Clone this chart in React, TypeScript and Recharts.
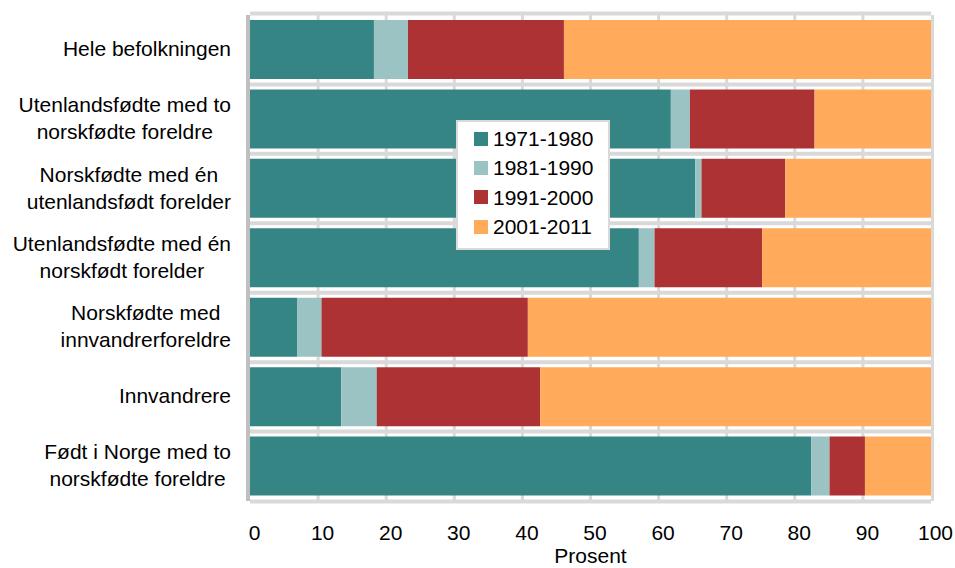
import React from 'react';
import { BarChart, Bar, XAxis, YAxis, CartesianGrid, Legend } from 'recharts';

const categories = [
  'Hele befolkningen',
  'Utenlandsfødte med to\nnorskfødte foreldre',
  'Norskfødte med én\nutenlandsfødt forelder',
  'Utenlandsfødte med én\nnorskfødt forelder',
  'Norskfødte med\ninnvandrerforeldre',
  'Innvandrere',
  'Født i Norge med to\nnorskfødte foreldre',
];

const periods = ['1971-1980', '1981-1990', '1991-2000', '2001-2011'];

const s1971_1980 = [18.2, 61.8, 65.4, 57.1, 6.9, 13.4, 82.4];
const s1981_1990 = [5.0, 2.8, 0.9, 2.3, 3.6, 5.2, 2.7];
const s1991_2000 = [22.9, 18.3, 12.3, 15.8, 30.3, 24.0, 5.2];
const s2001_2011 = [53.9, 17.1, 21.4, 24.8, 59.2, 57.4, 9.7];

const xTicks = [0, 10, 20, 30, 40, 50, 60, 70, 80, 90, 100];

const colors = ['#358584', '#9cc3c3', '#ad3233', '#ffab5b'];
const FONT = '"Liberation Sans", Arial, Helvetica, sans-serif';
const FONT_SIZE = 21;

const seriesValues = [s1971_1980, s1981_1990, s1991_2000, s2001_2011];
const data = categories.map((name, i) => {
  const row: Record<string, number | string> = { name };
  periods.forEach((p, k) => {
    row[p] = seriesValues[k][i];
  });
  return row;
});

let ctx: CanvasRenderingContext2D | null = null;
const measure = (t: string) => {
  if (!ctx) {
    const c = document.createElement('canvas');
    ctx = c.getContext('2d');
    if (ctx) ctx.font = `${FONT_SIZE}px ${FONT}`;
  }
  return ctx ? ctx.measureText(t).width : t.length * 10;
};

const YTick = (props: any) => {
  const { x, y, payload } = props;
  const lines = String(payload.value).split('\n');
  if (lines.length === 1) {
    return (
      <text x={x} y={y + 6.5} textAnchor="end" fill="#000" fontSize={FONT_SIZE} fontFamily={FONT}>
        {lines[0]}
      </text>
    );
  }
  const maxW = Math.max(...lines.map(measure));
  const cx = x - maxW / 2;
  return (
    <text textAnchor="middle" fill="#000" fontSize={FONT_SIZE} fontFamily={FONT}>
      {lines.map((l, i) => (
        <tspan key={i} x={cx} y={y - 7 + i * 27}>
          {l}
        </tspan>
      ))}
    </text>
  );
};

const XTick = (props: any) => {
  const { x, y, payload } = props;
  return (
    <text x={x + 4.5} y={y + 38.5} textAnchor="middle" fill="#000" fontSize={FONT_SIZE} fontFamily={FONT}>
      {payload.value}
    </text>
  );
};

const verticalGen = (p: any) => {
  const o = p.offset;
  return xTicks
    .filter((v) => v !== 0)
    .map((v) => (v === 100 ? o.left + o.width + 1.5 : o.left + (o.width * v) / 100));
};

const horizontalGen = (p: any) => {
  const o = p.offset;
  const n = categories.length;
  const band = o.height / n;
  const lines = [o.top - 1.5];
  for (let i = 1; i < n; i++) lines.push(o.top + i * band);
  lines.push(o.top + o.height + 0.5);
  return lines;
};

const leftAxisGen = (p: any) => [p.offset.left - 2];

const LegendBox = (props: any) => {
  const payload = props.payload || [];
  return (
    <div
      style={{
        width: 154,
        height: 130,
        boxSizing: 'border-box',
        border: '2px solid #d9d9d9',
        background: '#fff',
        paddingTop: 2,
        fontFamily: FONT,
        fontSize: FONT_SIZE,
        color: '#000',
      }}
    >
      {payload.map((e: any) => (
        <div
          key={e.value}
          style={{ display: 'flex', alignItems: 'center', height: 29.3, lineHeight: '29.3px' }}
        >
          <span
            style={{
              display: 'inline-block',
              width: 14,
              height: 14,
              marginLeft: 16,
              marginRight: 5,
              background: e.color,
            }}
          />
          <span>{e.value}</span>
        </div>
      ))}
    </div>
  );
};

export default function App() {
  return (
    <div style={{ position: 'absolute', left: 0, top: 0, width: 955, height: 568, background: '#fff' }}>
      <BarChart
        width={955}
        height={568}
        data={data}
        layout="vertical"
        margin={{ top: 15, right: 24, bottom: 0, left: 0 }}
        barSize={59}
      >
        <CartesianGrid
          horizontal={false}
          vertical={true}
          stroke="#d9d9d9"
          strokeWidth={3}
          verticalCoordinatesGenerator={verticalGen}
        />
        <CartesianGrid
          horizontal={true}
          vertical={false}
          stroke="#d9d9d9"
          strokeWidth={4}
          horizontalCoordinatesGenerator={horizontalGen}
        />
        <CartesianGrid
          horizontal={false}
          vertical={true}
          stroke="#bfbfbf"
          strokeWidth={4}
          verticalCoordinatesGenerator={leftAxisGen}
        />
        <XAxis
          type="number"
          domain={[0, 100]}
          ticks={xTicks}
          interval={0}
          height={67}
          tickLine={false}
          axisLine={false}
          tickSize={0}
          tickMargin={0}
          tick={<XTick />}
          label={{ value: 'Prosent', position: 'insideBottom', offset: 5, fill: '#000', fontSize: FONT_SIZE, fontFamily: FONT }}
        />
        <YAxis
          type="category"
          dataKey="name"
          width={250}
          tickLine={false}
          axisLine={false}
          tickSize={0}
          tickMargin={19}
          interval={0}
          tick={<YTick />}
        />
        {periods.map((p, k) => (
          <Bar key={p} dataKey={p} name={p} stackId="a" fill={colors[k]} isAnimationActive={false} />
        ))}
        <Legend
          layout="vertical"
          align="center"
          verticalAlign="middle"
          wrapperStyle={{ left: 456, top: 120, width: 154, height: 130 }}
          content={<LegendBox />}
        />
      </BarChart>
    </div>
  );
}
